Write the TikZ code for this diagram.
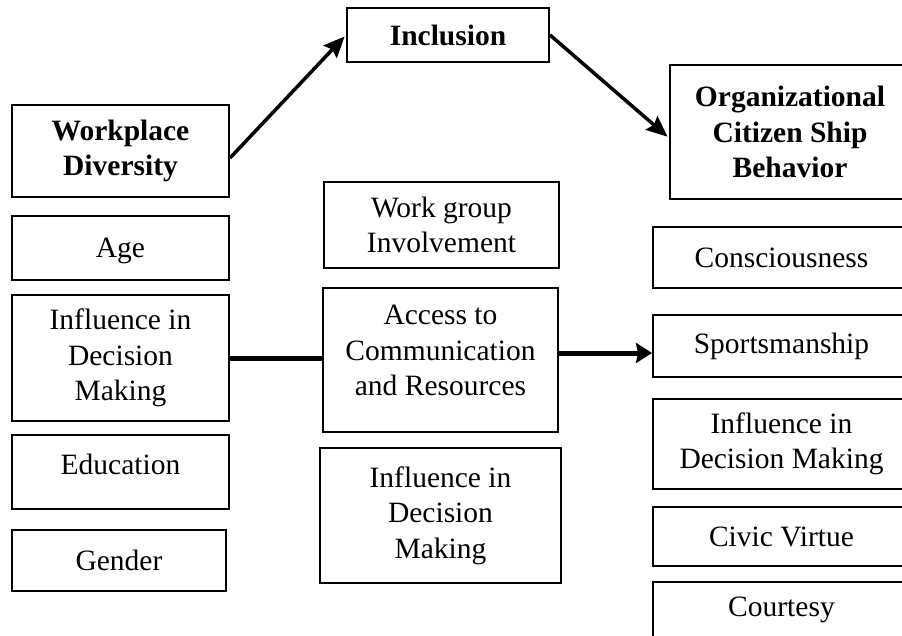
\documentclass[tikz,border=0pt]{standalone}
\usepackage{fontspec}
\setmainfont{Liberation Serif}
\usetikzlibrary{arrows.meta,calc}
\newcommand{\fsz}{\fontsize{29.5}{35.4}\selectfont}
\tikzset{
  box/.style={draw, line width=2pt, align=center, font=\fsz, inner sep=0pt},
  bbox/.style={box, font=\fsz\bfseries},
  conn/.style={line width=3.5pt, -{Stealth[length=21pt,width=18pt,inset=3pt]}, shorten >=2pt},
  hconn/.style={line width=5pt},
  harrow/.style={line width=5pt, -{Stealth[length=16pt,width=20pt,inset=2pt]}},
}
\begin{document}
\begin{tikzpicture}[x=1pt,y=-1pt]
\useasboundingbox (0,0) rectangle (902,636);
\clip (0,0) rectangle (902,636);
% left column
\node[bbox, minimum width=202, minimum height=54] (incl) at (448,35) {Inclusion};
\node[bbox, minimum width=217, minimum height=92] (wd) at (120.5,151) {Workplace\\Diversity};
\node[box, minimum width=217, minimum height=64] (age) at (120.5,248) {\raisebox{-3pt}[\height][\depth]{Age}};
\node[box, minimum width=217, minimum height=126] (infl1) at (120.5,358) {Influence in\\Decision\\Making};
\node[box, minimum width=217, minimum height=74] (edu) at (120.5,472) {\raisebox{8pt}[\height][\depth]{Education}};
\node[box, minimum width=214, minimum height=61] (gender) at (119,560.5) {Gender};
% middle column
\node[box, minimum width=235, minimum height=86] (wg) at (441.5,225) {Work group\\Involvement};
\node[box, minimum width=235, minimum height=144] (acc) at (440.5,360) {\raisebox{7pt}[\height][\depth]{\begin{tabular}{@{}c@{}}Access to\\Communication\\and Resources\end{tabular}}};
\node[box, minimum width=241, minimum height=135] (infl2) at (440.5,515.5) {Influence in\\Decision\\Making};
% right column
\node[bbox, minimum width=240, minimum height=134] (ocb) at (790,132) {Organizational\\Citizen Ship\\Behavior};
\node[box, minimum width=257, minimum height=61] (cons) at (781.5,257.5) {Consciousness};
\node[box, minimum width=257, minimum height=62] (sports) at (781.5,346) {Sportsmanship};
\node[box, minimum width=257, minimum height=90] (infl3) at (781.5,444) {Influence in\\Decision Making};
\node[box, minimum width=257, minimum height=59] (civic) at (781.5,536.5) {Civic Virtue};
\node[box, minimum width=257, minimum height=56] (court) at (781.5,610) {Courtesy};
% connectors
\draw[conn] ($(wd.east)+(0,7)$) -- (incl.west);
\draw[conn] (incl.east) -- ($(ocb.west)+(0,6)$);
\draw[hconn] (infl1.east) -- (acc.west |- infl1.east);
\draw[harrow] ($(acc.east)+(0,-7)$) -- ($(sports.west)+(0,7)$);
\end{tikzpicture}
\end{document}
